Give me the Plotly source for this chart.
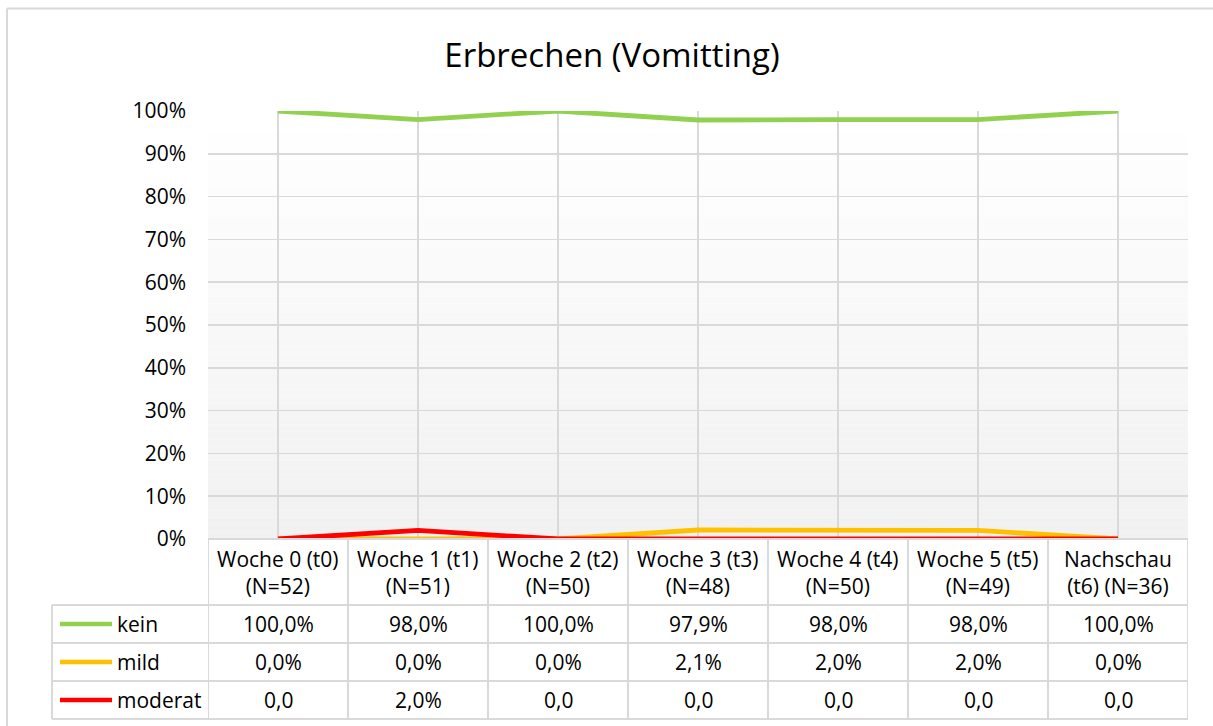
import plotly.graph_objects as go

# ---- data ----
categories = ["Woche 0 (t0)<br>(N=52)", "Woche 1 (t1)<br>(N=51)", "Woche 2 (t2)<br>(N=50)",
              "Woche 3 (t3)<br>(N=48)", "Woche 4 (t4)<br>(N=50)", "Woche 5 (t5)<br>(N=49)",
              "Nachschau<br>(t6) (N=36)"]
series_names = ["kein", "mild", "moderat"]
kein = [1.000, 0.980, 1.000, 0.979, 0.980, 0.980, 1.000]
mild = [0.000, 0.000, 0.000, 0.021, 0.020, 0.020, 0.000]
moderat = [0.000, 0.020, 0.000, 0.000, 0.000, 0.000, 0.000]
kein_labels = ["100,0%", "98,0%", "100,0%", "97,9%", "98,0%", "98,0%", "100,0%"]
mild_labels = ["0,0%", "0,0%", "0,0%", "2,1%", "2,0%", "2,0%", "0,0%"]
moderat_labels = ["0,0", "2,0%", "0,0", "0,0", "0,0", "0,0", "0,0"]
colors = ["#92D050", "#FFC000", "#FF0000"]
title = "Erbrechen (Vomitting)"

W, H = 1213, 726
FONT = "Open Sans"
FS = 21
GRID = "#d9d9d9"


def px(x):
    return x / W


def py(y):
    return 1 - y / H


x_idx = list(range(len(categories)))
fig = go.Figure()
for name, vals, col in zip(series_names, [kein, mild, moderat], colors):
    fig.add_trace(go.Scatter(x=x_idx, y=vals, mode="lines", name=name,
                             line=dict(color=col, width=4.8), cliponaxis=False,
                             showlegend=False, hoverinfo="skip"))

shapes = []
# gradient background of plot area
n = 60
for i in range(n):
    t = i / (n - 1)
    v = int(round(241 + (255 - 241) * t))
    shapes.append(dict(type="rect", xref="x domain", yref="y domain", x0=0, x1=1,
                       y0=i / n, y1=(i + 1) / n, fillcolor=f"rgb({v},{v},{v})",
                       line=dict(width=0), layer="below"))

# outer border
shapes.append(dict(type="line", xref="paper", yref="paper", x0=px(7), x1=1, y0=py(8.5), y1=py(8.5),
                   line=dict(color=GRID, width=2)))
shapes.append(dict(type="line", xref="paper", yref="paper", x0=px(7), x1=px(7), y0=py(8.5), y1=0,
                   line=dict(color=GRID, width=2)))

# data table geometry (pixels)
row_y = [539, 605, 643, 681, 719]
leg_left = 52
tbl_left, tbl_right = 208, 1188
shapes.append(dict(type="line", xref="paper", yref="paper", x0=px(tbl_left), x1=px(tbl_right),
                   y0=py(row_y[0]), y1=py(row_y[0]), line=dict(color=GRID, width=2)))
for ry in row_y[1:]:
    shapes.append(dict(type="line", xref="paper", yref="paper", x0=px(leg_left), x1=px(tbl_right),
                       y0=py(ry), y1=py(ry), line=dict(color=GRID, width=2)))
for i in range(len(categories) + 1):
    shapes.append(dict(type="line", xref="x", yref="paper", x0=i - 0.5, x1=i - 0.5,
                       y0=py(row_y[0]), y1=py(row_y[-1]), line=dict(color=GRID, width=2)))
shapes.append(dict(type="line", xref="paper", yref="paper", x0=px(leg_left), x1=px(leg_left),
                   y0=py(row_y[1]), y1=py(row_y[-1]), line=dict(color=GRID, width=2)))

annotations = []
for i, c in enumerate(categories):
    annotations.append(dict(x=i, xref="x", y=py((row_y[0] + row_y[1]) / 2), yref="paper",
                            text=c, showarrow=False, font=dict(family=FONT, size=FS, color="#000"),
                            xanchor="center", yanchor="middle"))
for r, (name, labels, col) in enumerate(zip(series_names, [kein_labels, mild_labels, moderat_labels], colors)):
    yc = (row_y[r + 1] + row_y[r + 2]) / 2
    shapes.append(dict(type="line", xref="paper", yref="paper", x0=px(60), x1=px(112),
                       y0=py(yc), y1=py(yc), line=dict(color=col, width=4.5)))
    annotations.append(dict(x=px(115), xref="paper", y=py(yc), yref="paper", text=name,
                            showarrow=False, xanchor="left", yanchor="middle",
                            font=dict(family=FONT, size=FS, color="#000")))
    for i, lab in enumerate(labels):
        annotations.append(dict(x=i, xref="x", y=py(yc), yref="paper", text=lab,
                                showarrow=False, xanchor="center", yanchor="middle",
                                font=dict(family=FONT, size=FS, color="#000")))

fig.update_layout(
    template="none",
    width=W, height=H, autosize=False,
    margin=dict(l=0, r=0, t=0, b=0, pad=0),
    paper_bgcolor="white", plot_bgcolor="rgba(0,0,0,0)",
    showlegend=False,
    title=dict(text=title, x=px(612), xanchor="center", y=py(55), yanchor="middle",
               font=dict(family=FONT, size=33, color="#000")),
    xaxis=dict(domain=[px(tbl_left), px(tbl_right)], range=[-0.5, len(categories) - 0.5],
               tickmode="array", tickvals=x_idx, showticklabels=False, ticks="",
               showgrid=True, gridcolor=GRID, gridwidth=1.5, zeroline=False, showline=False,
               automargin=False),
    yaxis=dict(domain=[py(539), py(111)], range=[0, 1], tickmode="linear", tick0=0, dtick=0.1,
               tickformat=".0%", showgrid=True, gridcolor=GRID, gridwidth=1.5, zeroline=False,
               showline=False, ticks="", ticklabelstandoff=21, automargin=False,
               tickfont=dict(family=FONT, size=FS, color="#000")),
    shapes=shapes, annotations=annotations,
)

fig.write_html("out.html", config={"displayModeBar": False, "staticPlot": True},
               post_script="document.body.style.margin='0';document.body.style.overflow='hidden';")
